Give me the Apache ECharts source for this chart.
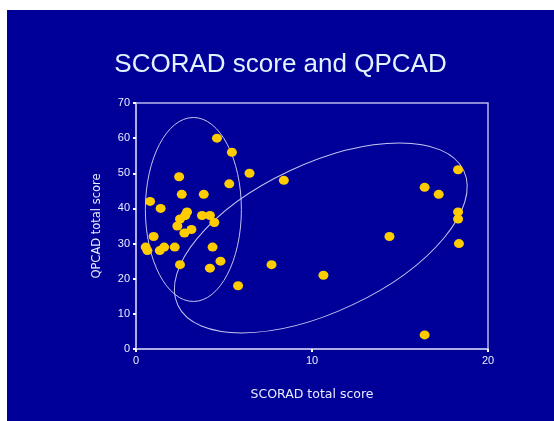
<!DOCTYPE html>
<html>
<head>
<meta charset="utf-8">
<script src="https://cdn.jsdelivr.net/npm/echarts@6/dist/echarts.min.js"></script>
<style>
html,body{margin:0;padding:0;background:#ffffff;}
#main{position:absolute;left:7px;top:10px;width:547px;height:411px;background:#000099;}
</style>
</head>
<body>
<div id="main"></div>
<script>
var titleText = 'SCORAD score and QPCAD';
var xName = 'SCORAD total score';
var yName = 'QPCAD total score';
var scoradValues = [4.6,5.45,6.45,2.45,5.3,2.6,3.85,0.8,1.4,2.9,2.8,2.5,3.75,4.2,4.45,2.35,3.15,2.75,1.0,0.55,0.65,1.6,1.35,2.2,4.35,2.5,4.8,4.2,5.8,7.7,8.4,14.4,10.65,16.4,17.2,18.3,18.3,18.3,18.35,16.4];
var qpcadValues = [60,56,50,49,47,44,44,42,40,39,38,37,38,38,36,35,34,33,32,29,28,29,28,29,29,24,25,23,18,24,48,32,21,46,44,51,39,37,30,4];
// annotation ellipses: centre in data units
var ellipseCentres = [[3.26, 39.7], [10.5, 31.6]];

var points = scoradValues.map(function(v, i){ return [v, qpcadValues[i]]; });

var chart = echarts.init(document.getElementById('main'));
var axisColor = '#b8b8ec';
var textColor = '#e8ecff';
var ellipseStyles = [
  {rx: 48, ry: 92, rot: 0},
  {rx: 158, ry: 74, rot: 0.44}
];
chart.setOption({
  animation: false,
  title: {
    text: titleText,
    left: 'center',
    top: 37,
    textStyle: {color: '#e0f4ff', fontSize: 26, fontWeight: 'normal', fontFamily: 'Liberation Sans, Arial, sans-serif'}
  },
  grid: {left: 129, top: 93, right: 66, bottom: 72, show: true, borderColor: axisColor, borderWidth: 1.5},
  xAxis: {
    type: 'value', min: 0, max: 20, interval: 10,
    name: xName, nameLocation: 'middle', nameGap: 39,
    nameTextStyle: {color: textColor, fontSize: 12.5, fontFamily: 'DejaVu Sans, sans-serif'},
    axisLine: {show: true, lineStyle: {color: axisColor, width: 1.5}},
    axisTick: {show: true, length: 3, lineStyle: {color: '#ffffff', width: 2}},
    axisLabel: {color: textColor, fontSize: 11, margin: 6, fontFamily: 'Liberation Sans, Arial, sans-serif'},
    splitLine: {show: false}
  },
  yAxis: {
    type: 'value', min: 0, max: 70, interval: 10,
    name: yName, nameLocation: 'middle', nameGap: 33,
    nameTextStyle: {color: textColor, fontSize: 11.5, fontFamily: 'DejaVu Sans, sans-serif'},
    axisLine: {show: true, lineStyle: {color: axisColor, width: 1.5}},
    axisTick: {show: true, length: 3, lineStyle: {color: '#ffffff', width: 2}},
    axisLabel: {color: textColor, fontSize: 11, margin: 6, fontFamily: 'Liberation Sans, Arial, sans-serif'},
    splitLine: {show: false}
  },
  series: [
    {
      type: 'custom',
      silent: true,
      data: ellipseCentres,
      renderItem: function(params, api){
        var c = api.coord([api.value(0), api.value(1)]);
        var s = ellipseStyles[params.dataIndex];
        return {
          type: 'ellipse',
          x: c[0], y: c[1],
          rotation: s.rot,
          shape: {cx: 0, cy: 0, rx: s.rx, ry: s.ry},
          style: {fill: 'none', stroke: '#c4c4f0', lineWidth: 1}
        };
      },
      z: 1
    },
    {
      type: 'scatter',
      data: points,
      symbol: 'circle',
      symbolSize: [10, 9],
      itemStyle: {color: '#ffcc00', opacity: 1},
      z: 3
    }
  ]
});
</script>
</body>
</html>
